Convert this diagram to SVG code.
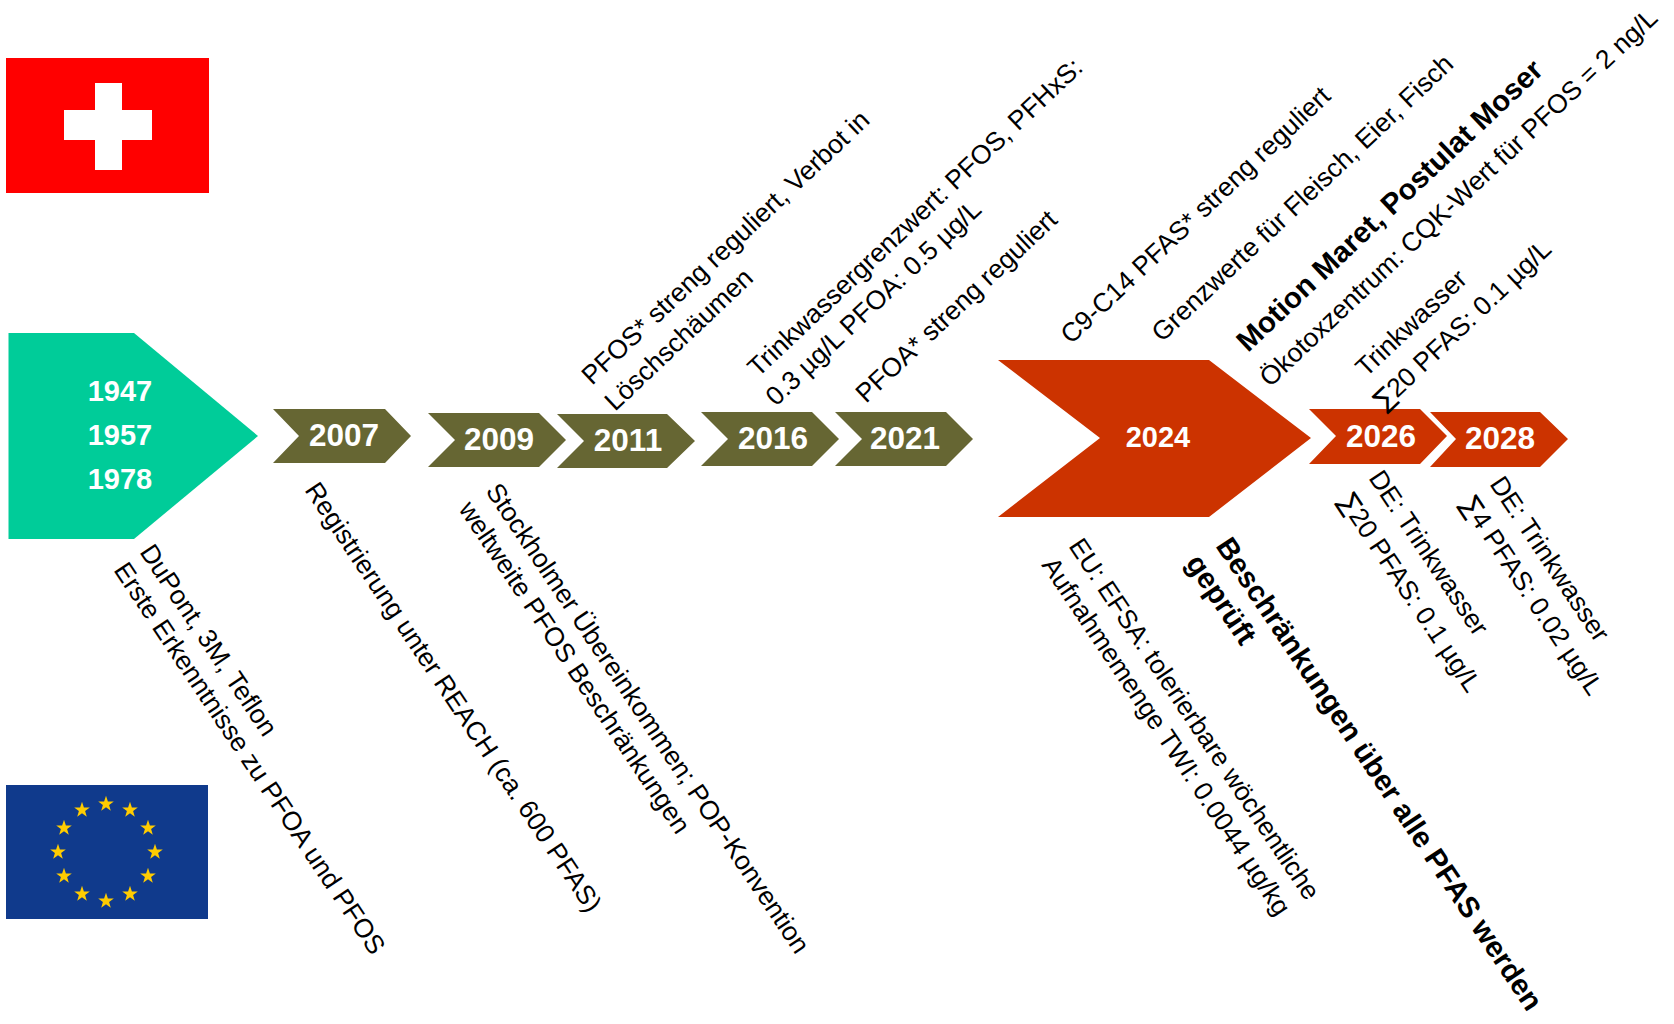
<svg xmlns="http://www.w3.org/2000/svg" width="1674" height="1024" viewBox="0 0 1674 1024">
<style>
text{font-family:"Liberation Sans",Arial,sans-serif}
.y{font-weight:700;fill:#fff;text-anchor:middle;font-size:31.5px}
.l{font-size:26.4px;fill:#000}
.b{font-weight:700;font-size:29.3px}
.g{font-family:"DejaVu Sans",sans-serif}
.olive{fill:#666633}.red{fill:#CC3300}
</style>
<defs><polygon id="s" fill="#FFCC00" points="0,-8.2 1.9,-2.5 7.8,-2.5 3.1,1 4.8,6.7 0,3.2 -4.8,6.7 -3.1,1 -7.8,-2.5 -1.9,-2.5"/></defs>
<rect width="1674" height="1024" fill="#fff"/>
<g id="flag-ch"><rect x="6" y="58" width="203" height="135" fill="#FF0000"/><path d="M95 83h27v27h30v30h-30v30h-27v-30h-31v-30h31z" fill="#fff"/></g>
<g id="flag-eu"><rect x="6" y="785" width="202" height="134" fill="#103A8C"/>
<use href="#s" x="106" y="804"/><use href="#s" x="130" y="810"/><use href="#s" x="148" y="828"/><use href="#s" x="155" y="852"/><use href="#s" x="148" y="876"/><use href="#s" x="130" y="894"/><use href="#s" x="106" y="901"/><use href="#s" x="82" y="894"/><use href="#s" x="64" y="876"/><use href="#s" x="58" y="852"/><use href="#s" x="64" y="828"/><use href="#s" x="82" y="810"/></g>
<g id="n1947"><polygon points="8.5,333 134,333 258,436 134,539 8.5,539" fill="#00CC99"/>
<g class="y" style="font-size:29px"><text x="120" y="401">1947</text><text x="120" y="445">1957</text><text x="120" y="489">1978</text></g></g>
<g id="n2007"><polygon class="olive" points="273,409 385,409 411,436 385,463 273,463 299,436"/><text class="y" x="344" y="446">2007</text></g>
<g id="n2009"><polygon class="olive" points="428,413 539,413 566,440 539,467 428,467 455,440"/><text class="y" x="499" y="450">2009</text></g>
<g id="n2011"><polygon class="olive" points="557,414 667,414 695,441 667,468 557,468 584,441"/><text class="y" x="628" y="451">2011</text></g>
<g id="n2016"><polygon class="olive" points="701,412 812,412 839,439 812,466 701,466 728,439"/><text class="y" x="773" y="449">2016</text></g>
<g id="n2021"><polygon class="olive" points="835,412 946,412 973,439 946,466 835,466 862,439"/><text class="y" x="905" y="449">2021</text></g>
<g id="n2024"><polygon class="red" points="998,360 1209,360 1311,438 1209,517 998,517 1100,438"/><text class="y" style="font-size:29px" x="1158" y="447">2024</text></g>
<g id="n2026"><polygon class="red" points="1309,409 1420,409 1447,436 1420,464 1309,464 1336,436"/><text class="y" x="1381" y="447">2026</text></g>
<g id="n2028"><polygon class="red" points="1430,412 1540,412 1568,439 1540,467 1430,467 1456,439"/><text class="y" x="1500" y="449">2028</text></g>
<g id="labels-below" class="l">
<text transform="translate(139,552) rotate(56.2)">DuPont, 3M, Teflon</text>
<text transform="translate(113,570) rotate(56.2)">Erste Erkenntnisse zu PFOA und PFOS</text>
<text transform="translate(304,490) rotate(56.2)">Registrierung unter REACH (ca. 600 PFAS)</text>
<text transform="translate(485,491) rotate(56.2)">Stockholmer Übereinkommen; POP-Konvention</text>
<text transform="translate(458,509) rotate(56.2)">weltweite PFOS Beschränkungen</text>
<text transform="translate(1068,546) rotate(56.2)">EU: EFSA: tolerierbare wöchentliche</text>
<text transform="translate(1041,565) rotate(56.2)">Aufnahmemenge TWI: 0.0044 µg/kg</text>
<text class="b" transform="translate(1215,546) rotate(56.2)">Beschränkungen über alle PFAS werden</text>
<text class="b" transform="translate(1185,563) rotate(56.2)">geprüft</text>
<text transform="translate(1368,478) rotate(56.2)">DE: Trinkwasser</text>
<text transform="translate(1338,501) rotate(56.2)"><tspan class="g">∑</tspan>20 PFAS: 0.1 µg/L</text>
<text transform="translate(1489,484) rotate(56.2)">DE: Trinkwasser</text>
<text transform="translate(1460,504) rotate(56.2)"><tspan class="g">∑</tspan>4 PFAS: 0.02 µg/L</text>
</g>
<g id="labels-above" class="l">
<text transform="translate(592,386) rotate(-43.4)">PFOS* streng reguliert, Verbot in</text>
<text transform="translate(615,412) rotate(-43.4)">Löschschäumen</text>
<text transform="translate(758,378) rotate(-43.4)">Trinkwassergrenzwert: PFOS, PFHxS:</text>
<text transform="translate(776,407) rotate(-43.4)">0.3 µg/L PFOA: 0.5 µg/L</text>
<text transform="translate(866,404) rotate(-43.4)">PFOA* streng reguliert</text>
<text transform="translate(1071,345) rotate(-43.4)">C9-C14 PFAS* streng reguliert</text>
<text transform="translate(1162,343) rotate(-43.4)">Grenzwerte für Fleisch, Eier, Fisch</text>
<text class="b" transform="translate(1248,353) rotate(-43.4)">Motion Maret, Postulat Moser</text>
<text transform="translate(1270,388) rotate(-43.4)">Ökotoxzentrum: CQK-Wert für PFOS = 2 ng/L</text>
<text transform="translate(1366,378) rotate(-43.4)">Trinkwasser</text>
<text transform="translate(1384,411) rotate(-43.4)"><tspan class="g">∑</tspan>20 PFAS: 0.1 µg/L</text>
</g>
</svg>
